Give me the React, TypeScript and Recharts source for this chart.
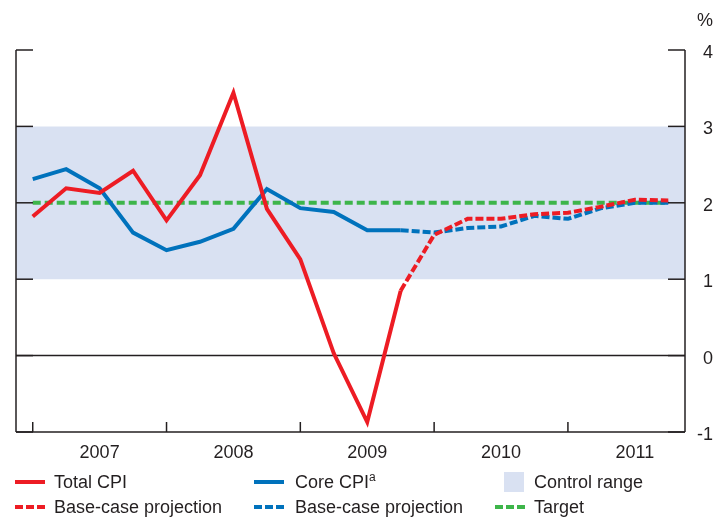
import { LineChart, Line, XAxis, YAxis, ReferenceArea, ReferenceLine, Legend } from 'recharts';

// quarterly observations, 2007Q1 .. 2011Q4
const quarters = [
  '2007Q1', '2007Q2', '2007Q3', '2007Q4',
  '2008Q1', '2008Q2', '2008Q3', '2008Q4',
  '2009Q1', '2009Q2', '2009Q3', '2009Q4',
  '2010Q1', '2010Q2', '2010Q3', '2010Q4',
  '2011Q1', '2011Q2', '2011Q3', '2011Q4',
];
const years = ['2007', '2008', '2009', '2010', '2011'];

// actual data up to 2009Q4
const totalCpi = [1.82, 2.19, 2.13, 2.42, 1.77, 2.36, 3.44, 1.92, 1.26, 0.03, -0.87, 0.85];
const coreCpi = [2.31, 2.44, 2.19, 1.61, 1.38, 1.49, 1.66, 2.18, 1.93, 1.88, 1.64, 1.64];

// base-case projections from 2009Q4
const totalCpiProjection = [0.85, 1.58, 1.79, 1.79, 1.85, 1.87, 1.95, 2.04, 2.03];
const coreCpiProjection = [1.64, 1.61, 1.67, 1.69, 1.83, 1.79, 1.93, 2.0, 2.0];

const target = 2;
const controlRange = [1, 3];
const yTicks = [-1, 0, 1, 2, 3, 4];
const xTicks = [0, 2, 4, 6, 8, 10, 12, 14, 16, 18];

const RED = '#ed1c24';
const BLUE = '#0072bc';
const GREEN = '#3db54a';
const RANGE = '#d9e1f2';
const INK = '#231f20';
const FONT = '"Liberation Sans", Arial, sans-serif';

const projStart = totalCpi.length - 1;

const data = quarters.map((q, i) => ({
  i,
  q,
  total: i < totalCpi.length ? totalCpi[i] : null,
  totalProj: i >= projStart ? totalCpiProjection[i - projStart] : null,
  core: i < coreCpi.length ? coreCpi[i] : null,
  coreProj: i >= projStart ? coreCpiProjection[i - projStart] : null,
  target,
}));

const XTick = (props: any) => {
  const { x, y, payload } = props;
  const v = payload.value;
  if (v % 4 === 0) {
    return <line x1={x} x2={x} y1={y} y2={y - 10} stroke={INK} strokeWidth={1.5} />;
  }
  return (
    <text x={x} y={y + 26} textAnchor="middle" fontSize={18} fill={INK} fontFamily={FONT}>
      {years[(v - 2) / 4]}
    </text>
  );
};

const RightTick = (props: any) => {
  const { x, y, payload } = props;
  return (
    <g>
      <line x1={x - 17} x2={x} y1={y} y2={y} stroke={INK} strokeWidth={1.5} />
      <text x={x + 28} y={y + 8} textAnchor="end" fontSize={18} fill={INK} fontFamily={FONT}>
        {payload.value}
      </text>
    </g>
  );
};

const LeftTick = (props: any) => {
  const { x, y } = props;
  return <line x1={x} x2={x + 17} y1={y} y2={y} stroke={INK} strokeWidth={1.5} />;
};

const Swatch = ({ color, dashed }: { color: string; dashed?: boolean }) => (
  <svg width={30} height={6} style={{ display: 'block' }}>
    <line x1={0} x2={30} y1={3} y2={3} stroke={color} strokeWidth={4} strokeDasharray={dashed ? '8 3' : undefined} />
  </svg>
);

const item = (left: number, top: number, swatch: any, label: any, textLeft: number) => (
  <>
    <div style={{ position: 'absolute', left, top: top - 3 }}>{swatch}</div>
    <div style={{ position: 'absolute', left: textLeft, top: top - 11, fontSize: 18, lineHeight: '22px', color: INK, whiteSpace: 'nowrap' }}>
      {label}
    </div>
  </>
);

const LegendBox = () => (
  <div style={{ position: 'relative', width: 715, height: 56, fontFamily: FONT }}>
    {item(15, 21, <Swatch color={RED} />, 'Total CPI', 54)}
    {item(15, 46, <Swatch color={RED} dashed />, 'Base-case projection', 54)}
    {item(254, 21, <Swatch color={BLUE} />, <span>Core CPI<sup style={{ fontSize: 12, lineHeight: 0 }}>a</sup></span>, 295)}
    {item(254, 46, <Swatch color={BLUE} dashed />, 'Base-case projection', 295)}
    <div style={{ position: 'absolute', left: 504, top: 11, width: 20, height: 20, background: RANGE }} />
    <div style={{ position: 'absolute', left: 534, top: 10, fontSize: 18, lineHeight: '22px', color: INK }}>Control range</div>
    {item(495, 46, <Swatch color={GREEN} dashed />, 'Target', 534)}
  </div>
);

export default function App() {
  return (
    <div style={{ position: 'fixed', left: 0, top: 0, fontFamily: FONT }}>
      <LineChart width={715} height={517} data={data} margin={{ top: 50, right: 0, bottom: 0, left: 0 }}>
        <ReferenceArea yAxisId="r" y1={controlRange[0]} y2={controlRange[1]} fill={RANGE} fillOpacity={1} stroke="none" />
        <ReferenceLine yAxisId="r" y={0} stroke={INK} strokeWidth={1.5} />
        <XAxis
          dataKey="i"
          type="number"
          domain={[-0.5, 19.5]}
          ticks={xTicks}
          interval={0}
          height={29}
          tickSize={0}
          tickMargin={0}
          tick={<XTick />}
          axisLine={{ stroke: INK, strokeWidth: 1.5 }}
        />
        <YAxis
          yAxisId="l"
          orientation="left"
          width={16}
          domain={[-1, 4]}
          ticks={yTicks}
          interval={0}
          tickSize={0}
          tickMargin={0}
          tick={<LeftTick />}
          axisLine={{ stroke: INK, strokeWidth: 1.5 }}
        />
        <YAxis
          yAxisId="r"
          orientation="right"
          width={30}
          domain={[-1, 4]}
          ticks={yTicks}
          interval={0}
          tickSize={0}
          tickMargin={0}
          tick={<RightTick />}
          axisLine={{ stroke: INK, strokeWidth: 1.5 }}
          label={{
            content: (p: any) => (
              <text x={p.viewBox.x + 28} y={p.viewBox.y - 24} textAnchor="end" fontSize={18} fill={INK} fontFamily={FONT}>
                %
              </text>
            ),
          }}
        />
        <Line yAxisId="l" dataKey="target" stroke={GREEN} strokeWidth={4} strokeDasharray="8 4" dot={false} isAnimationActive={false} />
        <Line yAxisId="r" dataKey="core" stroke={BLUE} strokeWidth={4} dot={false} isAnimationActive={false} />
        <Line yAxisId="r" dataKey="coreProj" stroke={BLUE} strokeWidth={4} strokeDasharray="8 3" dot={false} isAnimationActive={false} />
        <Line yAxisId="r" dataKey="total" stroke={RED} strokeWidth={4} dot={false} isAnimationActive={false} />
        <Line yAxisId="r" dataKey="totalProj" stroke={RED} strokeWidth={4} strokeDasharray="8 3" dot={false} isAnimationActive={false} />
        <Legend verticalAlign="bottom" content={() => <LegendBox />} />
      </LineChart>
    </div>
  );
}
